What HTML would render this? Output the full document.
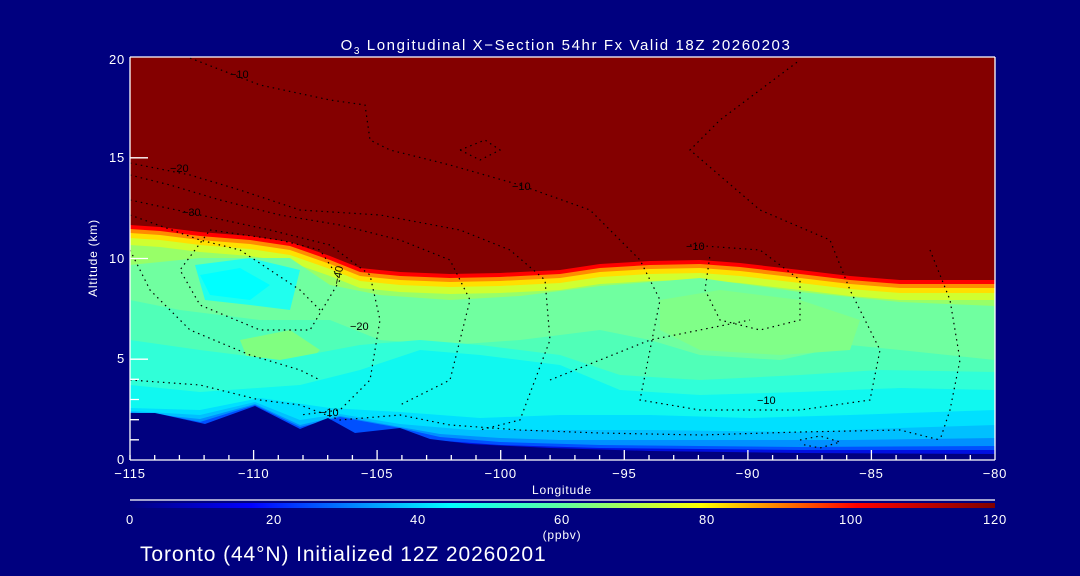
<!DOCTYPE html>
<html><head><meta charset="utf-8"><style>
html,body{margin:0;padding:0;background:#00007f;}
svg{display:block;}
text{font-family:"Liberation Sans",sans-serif;fill:#fff;}
</style></head><body>
<svg width="1080" height="576" viewBox="0 0 1080 576" xmlns="http://www.w3.org/2000/svg">
<defs>
<linearGradient id="cb" x1="0" x2="1" y1="0" y2="0">
<stop offset="0" stop-color="#000080"/>
<stop offset="0.14" stop-color="#0000ff"/>
<stop offset="0.37" stop-color="#00ffff"/>
<stop offset="0.5" stop-color="#60ff9f"/>
<stop offset="0.66" stop-color="#ffff00"/>
<stop offset="0.84" stop-color="#ff0000"/>
<stop offset="1" stop-color="#800000"/>
</linearGradient>
<clipPath id="pc"><rect x="130" y="57" width="865" height="403"/></clipPath>
<polygon id="tp" points="130,225 160,227 200,232 250,236 290,242 330,256 360,268 400,272 450,274 500,273 560,270 600,264 650,261 700,260 740,263 800,270 850,276 900,280 995,280 995,460 130,460"/>
</defs>
<rect width="1080" height="576" fill="#00007f"/>
<g clip-path="url(#pc)">
<rect x="130" y="57" width="865" height="403" fill="#840000"/>
<use href="#tp" fill="#ff0000"/>
<use href="#tp" fill="#ff8c00" transform="translate(0,4)"/>
<use href="#tp" fill="#ffe000" transform="translate(0,8)"/>
<use href="#tp" fill="#d0ff30" transform="translate(0,13)"/>
<use href="#tp" fill="#98ff68" transform="translate(0,20)"/>
<polygon fill="#70ffa0" points="130,265 200,258 290,258 330,285 380,295 450,300 520,296 600,286 700,278 800,292 900,302 995,306 995,460 130,460"/>
<polygon fill="#50ffb8" points="130,300 180,310 260,320 330,320 380,340 450,345 520,340 600,330 650,340 700,355 780,360 850,345 900,350 995,360 995,460 130,460"/>
<polygon fill="#80ff88" points="660,300 720,290 800,300 860,320 850,350 780,355 700,350 660,330"/>
<polygon fill="#80ff80" points="240,340 290,330 320,350 300,370 250,365"/>
<polygon fill="#30ffd8" points="130,340 200,350 280,360 360,345 420,340 480,345 560,355 620,375 700,380 800,375 880,370 995,372 995,460 130,460"/>
<polygon fill="#20ffee" points="195,265 250,258 300,270 290,310 250,305 205,300"/>
<polygon fill="#00ffff" points="200,275 240,268 270,285 250,300 210,295"/>
<polygon fill="#10f8f0" points="130,385 200,392 300,385 360,370 420,350 480,355 560,365 620,390 700,395 800,392 900,388 995,390 995,460 130,460"/>
<polygon fill="#00e0ff" points="130,408 200,410 260,398 330,408 400,412 480,418 560,415 650,415 750,418 850,415 995,410 995,460 130,460"/>
<polygon fill="#00c0ff" points="130,411 200,415 255,402 300,420 340,414 400,424 470,430 560,430 650,430 800,432 900,428 995,425 995,460 130,460"/>
<polygon fill="#0090ff" points="130,412 200,419 255,404 300,425 340,416 400,427 440,434 500,438 560,440 700,440 850,440 995,438 995,460 130,460"/>
<polygon fill="#0050ff" points="160,414 200,422 255,405 300,427 340,417 400,428 440,437 500,442 600,445 800,447 995,446 995,460 160,460"/>
<polygon fill="#0010e0" points="430,440 500,445 600,448 800,450 995,450 995,460 430,460"/>
<polygon fill="#00007f" points="130,413 155,413 205,424 255,406 300,429 328,418 355,433 400,428 430,439 470,444 550,448 650,451 800,453 995,454 995,460 130,460"/>
<g fill="none" stroke="#000" stroke-width="1.2" stroke-dasharray="1.5,4">
<polyline points="190,58 260,85 330,100 365,105 370,140 390,150 450,165 520,185 590,210 640,260 660,300 650,350 640,400 700,410 800,410 870,400 880,350 850,290 830,240 760,210 690,150 720,120 800,60"/>
<polyline points="130,163 190,175 240,190 300,210 380,215 460,230 510,250 545,280 550,340 520,420 480,430"/>
<polyline points="130,175 170,185 220,200 280,215 340,225 400,240 450,260 470,300 450,380 400,405"/>
<polyline points="130,200 200,215 270,230 330,245 370,275 380,320 370,380 340,410 300,415"/>
<polyline points="210,230 280,240 320,250 340,280 310,330 260,330 200,305 180,270 210,230"/>
<polyline points="130,250 150,290 190,330 250,355 300,370 320,380"/>
<polyline points="690,245 760,250 800,280 800,320 760,330 720,320 705,290 710,255"/>
<polyline points="130,380 200,385 260,400 300,405 340,420 400,415 450,425 520,430 600,433 700,435 800,432 900,430 940,440"/>
<polyline points="130,215 200,240 240,250 270,270 300,290 320,310"/>
<polyline points="550,380 600,360 650,340 700,330 750,320"/>
<polyline points="930,250 950,300 960,360 950,410 940,440"/>
<polyline points="800,440 820,436 840,442 820,448 800,444"/>
<polyline points="460,150 485,140 500,150 480,160 460,150"/>
</g>
<g font-size="11">
<text x="230" y="78" style="fill:#000">−10</text>
<text x="170" y="172" style="fill:#000">−20</text>
<text x="182" y="216" style="fill:#000">−30</text>
<text x="512" y="190" style="fill:#000">−10</text>
<text x="686" y="250" style="fill:#000">−10</text>
<text x="350" y="330" style="fill:#000">−20</text>
<text x="320" y="416" style="fill:#000">−10</text>
<text x="757" y="404" style="fill:#000">−10</text>
<text transform="translate(340,285) rotate(-80)" style="fill:#000">−40</text>
</g>
</g>
<g stroke="#fff" stroke-width="1.3" fill="none">
<line x1="130" y1="57" x2="995" y2="57"/>
<line x1="130" y1="460" x2="995" y2="460"/>
<line x1="130" y1="57" x2="130" y2="460"/>
<line x1="995" y1="57" x2="995" y2="460"/>
<path d="M130,460v-5 M154.7,460v-5 M179.4,460v-5 M204.1,460v-5 M228.9,460v-5 M253.6,460v-10 M278.3,460v-5 M303,460v-5 M327.7,460v-5 M352.4,460v-5 M377.1,460v-10 M401.9,460v-5 M426.6,460v-5 M451.3,460v-5 M476,460v-5 M500.7,460v-10 M525.4,460v-5 M550.1,460v-5 M574.9,460v-5 M599.6,460v-5 M624.3,460v-10 M649,460v-5 M673.7,460v-5 M698.4,460v-5 M723.1,460v-5 M747.9,460v-10 M772.6,460v-5 M797.3,460v-5 M822,460v-5 M846.7,460v-5 M871.4,460v-10 M896.1,460v-5 M920.9,460v-5 M945.6,460v-5 M970.3,460v-5"/>
<path d="M130,439.8h9 M130,419.7h9 M130,399.5h9 M130,379.3h9 M130,359.2h18 M130,258.5h18 M130,157.8h18"/>
<line x1="130" y1="500" x2="995" y2="500"/>
</g>
<rect x="130" y="503" width="865" height="5" fill="url(#cb)"/>
<g font-size="13" letter-spacing="0.8">
<text x="130" y="478" text-anchor="middle">−115</text>
<text x="253.6" y="478" text-anchor="middle">−110</text>
<text x="377.1" y="478" text-anchor="middle">−105</text>
<text x="500.7" y="478" text-anchor="middle">−100</text>
<text x="624.3" y="478" text-anchor="middle">−95</text>
<text x="747.9" y="478" text-anchor="middle">−90</text>
<text x="871.4" y="478" text-anchor="middle">−85</text>
<text x="995" y="478" text-anchor="middle">−80</text>
<text x="125" y="464" text-anchor="end">0</text>
<text x="125" y="363" text-anchor="end">5</text>
<text x="125" y="263" text-anchor="end">10</text>
<text x="125" y="162" text-anchor="end">15</text>
<text x="125" y="64" text-anchor="end">20</text>
<text x="562" y="494" text-anchor="middle" font-size="12">Longitude</text>
<text transform="translate(97,258) rotate(-90)" text-anchor="middle" font-size="12">Altitude (km)</text>
<text x="130" y="524" text-anchor="middle">0</text>
<text x="274" y="524" text-anchor="middle">20</text>
<text x="418" y="524" text-anchor="middle">40</text>
<text x="562" y="524" text-anchor="middle">60</text>
<text x="707" y="524" text-anchor="middle">80</text>
<text x="851" y="524" text-anchor="middle">100</text>
<text x="995" y="524" text-anchor="middle">120</text>
<text x="562" y="539" text-anchor="middle" font-size="12">(ppbv)</text>
</g>
<text x="566" y="50" text-anchor="middle" font-size="15" letter-spacing="1.6">O<tspan font-size="10" dy="4">3</tspan><tspan dy="-4"> Longitudinal X−Section 54hr  Fx Valid 18Z 20260203</tspan></text>
<text x="140" y="561" font-size="21" letter-spacing="0.9">Toronto (44°N) Initialized 12Z 20260201</text>
</svg>
</body></html>
